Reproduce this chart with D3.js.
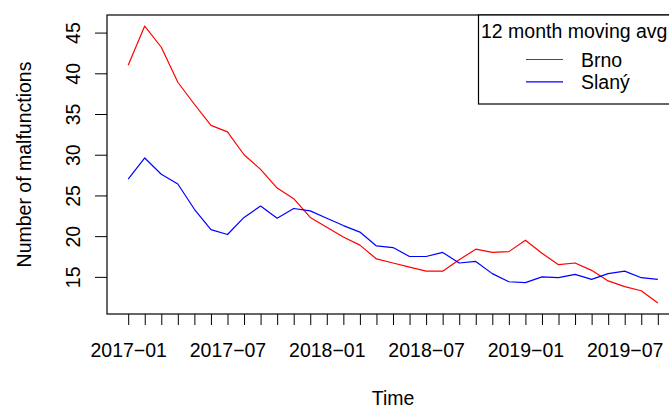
<!DOCTYPE html>
<html>
<head>
<meta charset="utf-8">
<script src="https://cdn.jsdelivr.net/npm/d3@7"></script>
<style>
  html, body { margin: 0; padding: 0; background: #fff; }
  svg { display: block; font-family: "Liberation Sans", Arial, Helvetica, sans-serif; }
</style>
</head>
<body>
<svg id="chart" width="669" height="408"></svg>
<script>
// Monthly 12-month moving averages of malfunctions, 2017-01 .. 2019-09
const months = [
  "2017-01","2017-02","2017-03","2017-04","2017-05","2017-06","2017-07","2017-08","2017-09","2017-10","2017-11","2017-12",
  "2018-01","2018-02","2018-03","2018-04","2018-05","2018-06","2018-07","2018-08","2018-09","2018-10","2018-11","2018-12",
  "2019-01","2019-02","2019-03","2019-04","2019-05","2019-06","2019-07","2019-08","2019-09"
];
const brno = [
  41.0, 45.8, 43.2, 38.9, 36.2, 33.6, 32.8, 30.0, 28.2, 25.9, 24.6, 22.3,
  21.1, 19.9, 18.9, 17.2, 16.7, 16.2, 15.7, 15.7, 17.1, 18.4, 18.0, 18.1,
  19.5, 17.9, 16.5, 16.7, 15.8, 14.5, 13.8, 13.3, 11.8
];
const slany = [
  27.0, 29.6, 27.6, 26.4, 23.3, 20.8, 20.2, 22.3, 23.7, 22.2, 23.4, 23.1,
  22.2, 21.3, 20.5, 18.8, 18.6, 17.5, 17.5, 18.0, 16.7, 16.9, 15.4, 14.4,
  14.3, 15.0, 14.9, 15.3, 14.7, 15.4, 15.7, 14.9, 14.7
];
const yTicks = [15, 20, 25, 30, 35, 40, 45];
const xLabelMonths = ["2017-01","2017-07","2018-01","2018-07","2019-01","2019-07"];
const seriesNames = ["Brno", "Slaný"];
const seriesColors = ["#ff0000", "#0000ff"];
const legendTitle = "12 month moving avg";

const svg = d3.select("#chart");
const plotLeft = 107, plotRight = 679, plotTop = 15, plotBottom = 314;
const fontSize = 19.5;

// R-style 4% padding on both axes
const n = months.length;
const xPad = (n - 1) * 0.04;
const x = d3.scaleLinear().domain([-xPad, n - 1 + xPad]).range([plotLeft, plotRight]);
const allVals = brno.concat(slany);
const yMin = d3.min(allVals), yMax = d3.max(allVals);
const yPad = (yMax - yMin) * 0.04;
const y = d3.scaleLinear().domain([yMin - yPad, yMax + yPad]).range([plotBottom, plotTop]);

// x axis: a tick every month, labels every six months
const xAxis = d3.axisBottom(x)
  .tickValues(d3.range(n))
  .tickSize(11)
  .tickSizeOuter(0)
  .tickFormat(i => xLabelMonths.includes(months[i]) ? months[i].replace("-", "\u2212") : "");
const gx = svg.append("g").attr("transform", `translate(0,${plotBottom})`).call(xAxis);
gx.select(".domain").remove();
gx.selectAll(".tick line").attr("stroke", "#000").attr("stroke-width", 1);
gx.selectAll(".tick text")
  .attr("y", 43).attr("dy", 0)
  .attr("fill", "#000")
  .style("font-size", fontSize + "px")
  .style("font-family", "'Liberation Sans', Arial, sans-serif");

// y axis with rotated labels
const yAxis = d3.axisLeft(y).tickValues(yTicks).tickSize(12).tickSizeOuter(0).tickFormat(d3.format("d"));
const gy = svg.append("g").attr("transform", `translate(${plotLeft},0)`).call(yAxis);
gy.select(".domain").remove();
gy.selectAll(".tick line").attr("stroke", "#000").attr("stroke-width", 1);
gy.selectAll(".tick text")
  .attr("x", null).attr("dy", null)
  .attr("transform", "translate(-27,0) rotate(-90)")
  .attr("text-anchor", "middle")
  .attr("fill", "#000")
  .style("font-size", fontSize + "px")
  .style("font-family", "'Liberation Sans', Arial, sans-serif");

// plot frame
svg.append("rect")
  .attr("x", plotLeft).attr("y", plotTop)
  .attr("width", plotRight - plotLeft).attr("height", plotBottom - plotTop)
  .attr("fill", "none").attr("stroke", "#000").attr("stroke-width", 1.2);

// series lines
const line = d3.line().x((d, i) => x(i)).y(d => y(d));
[brno, slany].forEach((vals, k) => {
  svg.append("path")
    .datum(vals)
    .attr("d", line)
    .attr("fill", "none")
    .attr("stroke", seriesColors[k])
    .attr("stroke-width", 1.2)
    .attr("stroke-linejoin", "round");
});

// axis titles
svg.append("text")
  .attr("x", (plotLeft + plotRight) / 2).attr("y", 405)
  .attr("text-anchor", "middle")
  .style("font-size", fontSize + "px")
  .text("Time");
svg.append("text")
  .attr("transform", `translate(31,${(plotTop + plotBottom) / 2}) rotate(-90)`)
  .attr("text-anchor", "middle")
  .style("font-size", fontSize + "px")
  .text("Number of malfunctions");

// legend in the top-right corner
const lg = svg.append("g");
lg.append("rect")
  .attr("x", 478.5).attr("y", plotTop)
  .attr("width", plotRight - 478.5).attr("height", 104 - plotTop)
  .attr("fill", "#fff").attr("stroke", "#000").attr("stroke-width", 1.2);
lg.append("text")
  .attr("x", 481).attr("y", 37.5)
  .style("font-size", fontSize + "px")
  .text(legendTitle);
seriesNames.forEach((name, k) => {
  const ly = 59.5 + k * 22.3;
  lg.append("line")
    .attr("x1", 526).attr("x2", 563)
    .attr("y1", ly).attr("y2", ly)
    .attr("stroke", seriesColors[k]).attr("stroke-width", 1.2);
  lg.append("text")
    .attr("x", 581).attr("y", ly + 7)
    .style("font-size", fontSize + "px")
    .text(name);
});
</script>
</body>
</html>
